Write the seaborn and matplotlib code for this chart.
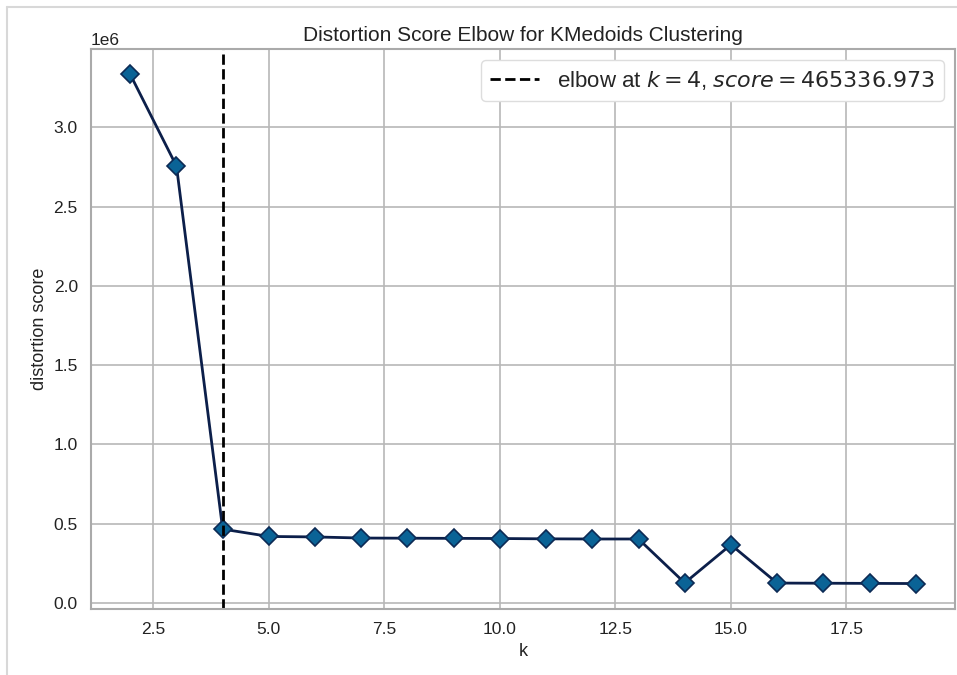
import matplotlib
matplotlib.use("Agg")
import matplotlib.pyplot as plt
import seaborn as sns
import pandas as pd
from matplotlib.lines import Line2D

k_values = [2, 3, 4, 5, 6, 7, 8, 9, 10, 11, 12, 13, 14, 15, 16, 17, 18, 19]
scores = [3333000, 2755000, 465336.973, 419000, 416000, 409000, 408000, 407000,
          406000, 404000, 403000, 403000, 126000, 367000, 125000, 124000, 123000, 122000]
elbow_k = 4
elbow_score = 465336.973
title = "Distortion Score Elbow for KMedoids Clustering"

sns.set_theme(style="whitegrid")
plt.rcParams['font.family'] = ['Liberation Sans', 'DejaVu Sans']
plt.rcParams['mathtext.fontset'] = 'dejavusans'

df = pd.DataFrame({"k": k_values, "score": scores})

fig = plt.figure(figsize=(9.57, 6.75), dpi=100)
ax = fig.add_axes([91/957, 1-609/675, (955-91)/957, (609-49)/675])

sns.lineplot(data=df, x="k", y="score", ax=ax, color="#0c1f4a", linewidth=2,
             marker="D", markersize=9, markerfacecolor="#0a6396",
             markeredgecolor="#0c2a55", markeredgewidth=1.2)

ax.axvline(elbow_k, color="black", linestyle="--", linewidth=2)

span = max(scores) - min(scores)
ax.set_ylim(min(scores) - 0.05 * span, max(scores) + 0.05 * span)
ax.set_xlim(1.15, 19.85)

ax.set_title(title, fontsize=15, color="#222222")
ax.set_xlabel("k", fontsize=13, color="#222222")
ax.set_ylabel("distortion score", fontsize=13, color="#222222")
ax.tick_params(labelsize=12.5, colors="#222222")
ax.yaxis.get_offset_text().set_fontsize(12.5)

ax.grid(True, color="#b8b8b8", linewidth=1.2)
for s in ax.spines.values():
    s.set_color("#aaaaaa")
    s.set_linewidth(1.5)

handle = Line2D([0], [0], color="black", linestyle="--", linewidth=2)
label = "elbow at $k={}$, $score={:0.3f}$".format(elbow_k, elbow_score)
ax.legend([handle], [label], loc="upper right", fontsize=16, frameon=True,
          framealpha=1, edgecolor="#dddddd", handlelength=2.2)

fig.add_artist(Line2D([7/957, 7/957], [0, 1-7/675], color="#d8d8d8", linewidth=1.5,
                      transform=fig.transFigure))
fig.add_artist(Line2D([7/957, 1], [1-7/675, 1-7/675], color="#d8d8d8", linewidth=1.5,
                      transform=fig.transFigure))

fig.savefig("out.png", dpi=100)
